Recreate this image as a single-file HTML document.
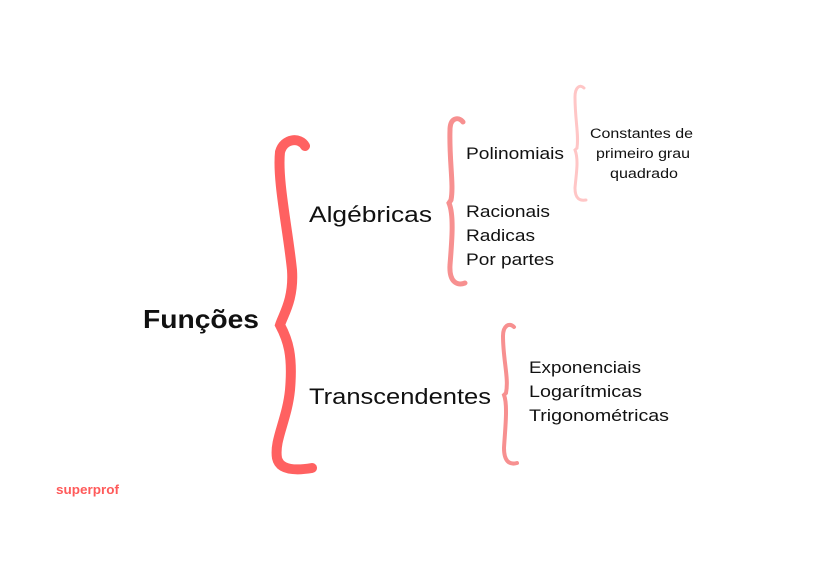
<!DOCTYPE html>
<html><head><meta charset="utf-8"><style>
body{margin:0;background:#fff;}
svg text{font-family:"Liberation Sans",sans-serif;fill:#111;}
</style></head><body>
<svg width="840" height="561" viewBox="0 0 840 561" xmlns="http://www.w3.org/2000/svg">
<rect width="840" height="561" fill="#fff"/>
<path d="M305,146 C300,137 284,138 280,152 C277,180 288,230 292,270 C294,300 283,315 280,325 C288,340 293,355 290,390 C287,420 274,440 277,458 C280,472 300,470 312,468" fill="none" stroke="#ff6161" stroke-width="10" stroke-linecap="round"/>
<path d="M463,122 C458,116 450,118 450,130 C449,160 454,185 451,200 L449,203 C454,215 452,240 450,265 C449,282 457,286 465,283" fill="none" stroke="#f79090" stroke-width="5" stroke-linecap="round"/>
<path d="M584,88 C580,84 575,87 575,97 C575,120 579,135 577,148 L575,150 C579,160 576,175 575,188 C575,199 580,201 586,200" fill="none" stroke="#ffc6c6" stroke-width="3" stroke-linecap="round"/>
<path d="M514,327 C509,322 503,326 503,336 C503,360 509,378 506,393 L504,395 C508,405 505,430 504,448 C504,462 510,465 517,463" fill="none" stroke="#f79090" stroke-width="4" stroke-linecap="round"/>
<text x="143" y="328" font-size="26" font-weight="bold" textLength="116" lengthAdjust="spacingAndGlyphs">Funções</text>
<text x="309" y="222" font-size="22" textLength="123" lengthAdjust="spacingAndGlyphs">Algébricas</text>
<text x="309" y="404" font-size="22" textLength="182" lengthAdjust="spacingAndGlyphs">Transcendentes</text>
<text x="466" y="159" font-size="17" textLength="98" lengthAdjust="spacingAndGlyphs">Polinomiais</text>
<text x="466" y="217" font-size="17" textLength="84" lengthAdjust="spacingAndGlyphs">Racionais</text>
<text x="466" y="241" font-size="17" textLength="69" lengthAdjust="spacingAndGlyphs">Radicas</text>
<text x="466" y="265" font-size="17" textLength="88" lengthAdjust="spacingAndGlyphs">Por partes</text>
<text x="590" y="138" font-size="13.5" textLength="103" lengthAdjust="spacingAndGlyphs">Constantes de</text>
<text x="596" y="158" font-size="13.5" textLength="94" lengthAdjust="spacingAndGlyphs">primeiro grau</text>
<text x="610" y="178" font-size="13.5" textLength="68" lengthAdjust="spacingAndGlyphs">quadrado</text>
<text x="529" y="373" font-size="17" textLength="112" lengthAdjust="spacingAndGlyphs">Exponenciais</text>
<text x="529" y="397" font-size="17" textLength="113" lengthAdjust="spacingAndGlyphs">Logarítmicas</text>
<text x="529" y="421" font-size="17" textLength="140" lengthAdjust="spacingAndGlyphs">Trigonométricas</text>
<text x="56" y="494" font-size="13" font-weight="bold" style="fill:#ff5a5a" textLength="63" lengthAdjust="spacingAndGlyphs">superprof</text>
</svg>
</body></html>
